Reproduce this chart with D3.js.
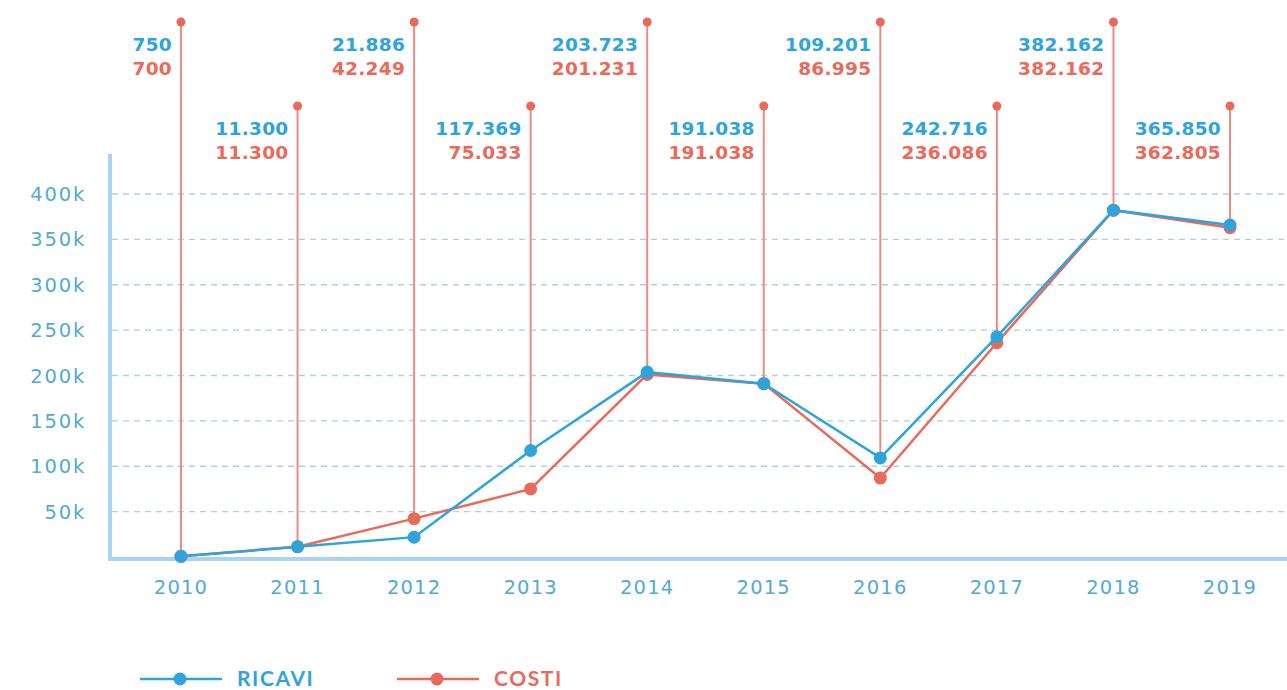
<!DOCTYPE html>
<html><head><meta charset="utf-8">
<script src="https://cdn.jsdelivr.net/npm/d3@7"></script>
<style>html,body{margin:0;padding:0;background:#fff;}svg{display:block;}</style>
</head><body>
<svg id="c" width="1287" height="690"></svg>
<script>
const years = ["2010","2011","2012","2013","2014","2015","2016","2017","2018","2019"];
const ricavi = [750, 11300, 21886, 117369, 203723, 191038, 109201, 242716, 382162, 365850];
const costi  = [700, 11300, 42249, 75033, 201231, 191038, 86995, 236086, 382162, 362805];
const ricaviLabels = ["750","11.300","21.886","117.369","203.723","191.038","109.201","242.716","382.162","365.850"];
const costiLabels  = ["700","11.300","42.249","75.033","201.231","191.038","86.995","236.086","382.162","362.805"];
const yTicks = [50000,100000,150000,200000,250000,300000,350000,400000];

const BLUE = "#2ea3dc", RED = "#e9695b", LEADER = "#ef8a80";
const svg = d3.select("#c");
const x = d3.scalePoint().domain(years).range([181, 1230]);
const y = d3.scaleLinear().domain([0, 400000]).range([557, 194]);

// gridlines
svg.append("g").selectAll("line").data(yTicks).join("line")
  .attr("x1", 112).attr("x2", 1287)
  .attr("y1", d => y(d)).attr("y2", d => y(d))
  .attr("stroke", "#b3cde2").attr("stroke-width", 1.3).attr("stroke-dasharray", "6,5");

// y tick labels
svg.append("g").selectAll("text").data(yTicks).join("text")
  .attr("x", 86).attr("y", d => y(d)).attr("dy", "0.36em")
  .attr("text-anchor", "end")
  .style("font-family", "'DejaVu Sans'").style("font-weight", "normal").style("font-size", "19.5px")
  .style("letter-spacing", "1.8px").attr("fill", "#52aad3")
  .text(d => (d/1000) + "k");

// axes lines
svg.append("line").attr("x1", 110).attr("x2", 110).attr("y1", 154).attr("y2", 561)
  .attr("stroke", "#a9d3ee").attr("stroke-width", 4);
svg.append("line").attr("x1", 108).attr("x2", 1287).attr("y1", 559).attr("y2", 559)
  .attr("stroke", "#a9d3ee").attr("stroke-width", 4);

// x labels
svg.append("g").selectAll("text").data(years).join("text")
  .attr("x", d => x(d)).attr("y", 594).attr("text-anchor", "middle")
  .style("font-family", "'DejaVu Sans'").style("font-weight", "normal").style("font-size", "19.5px")
  .style("letter-spacing", "1.2px").attr("fill", "#52aad3")
  .text(d => d);

// leader lines
const topY = i => i % 2 === 0 ? 22 : 106;
const lead = svg.append("g");
years.forEach((yr, i) => {
  const top = topY(i);
  lead.append("line").attr("x1", x(yr)).attr("x2", x(yr))
    .attr("y1", top).attr("y2", y(Math.max(ricavi[i], costi[i])))
    .attr("stroke", LEADER).attr("stroke-width", 2);
  lead.append("circle").attr("cx", x(yr)).attr("cy", top).attr("r", 4.5).attr("fill", RED);
  lead.append("text").attr("x", x(yr) - 9).attr("y", top + 29).attr("text-anchor", "end")
    .style("font-family", "'DejaVu Sans'").style("font-weight", "bold").style("font-size", "18.5px")
    .style("letter-spacing", "0.3px").attr("fill", BLUE).text(ricaviLabels[i]);
  lead.append("text").attr("x", x(yr) - 9).attr("y", top + 53).attr("text-anchor", "end")
    .style("font-family", "'DejaVu Sans'").style("font-weight", "bold").style("font-size", "18.5px")
    .style("letter-spacing", "0.3px").attr("fill", RED).text(costiLabels[i]);
});

// series
const line = d3.line().x((d, i) => x(years[i])).y(d => y(d));
function series(vals, color) {
  const g = svg.append("g");
  g.append("path").datum(vals).attr("d", line).attr("fill", "none")
    .attr("stroke", color).attr("stroke-width", 2.5);
  g.selectAll("circle").data(vals).join("circle")
    .attr("cx", (d, i) => x(years[i])).attr("cy", d => y(d)).attr("r", 6.5).attr("fill", color);
}
series(costi, RED);
series(ricavi, BLUE);

// legend
const legend = [{name: "RICAVI", color: BLUE, x0: 140}, {name: "COSTI", color: RED, x0: 397}];
const lg = svg.append("g");
legend.forEach(l => {
  lg.append("line").attr("x1", l.x0).attr("x2", l.x0 + 82).attr("y1", 679).attr("y2", 679)
    .attr("stroke", l.color).attr("stroke-width", 2.5);
  lg.append("circle").attr("cx", l.x0 + 40).attr("cy", 679).attr("r", 6.5).attr("fill", l.color);
  lg.append("text").attr("x", l.x0 + 97).attr("y", 686)
    .style("font-family", "Lato").style("font-weight", "bold").style("font-size", "21px")
    .style("letter-spacing", "1.6px").attr("fill", l.color).text(l.name);
});
</script>
</body></html>
